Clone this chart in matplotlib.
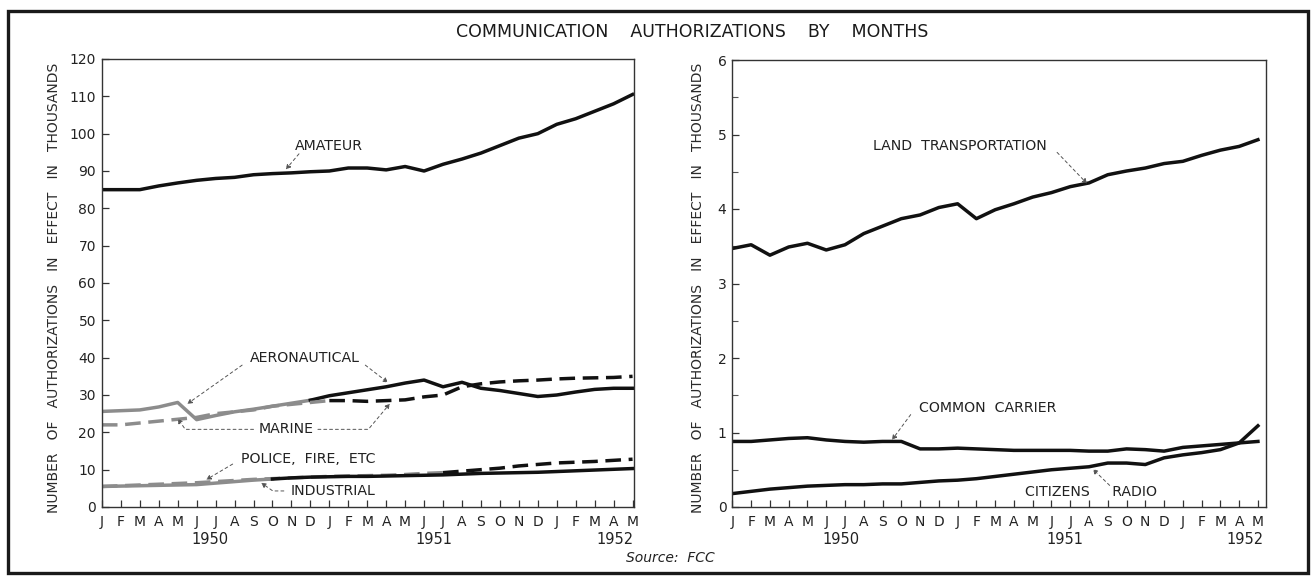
import matplotlib
matplotlib.use("Agg")
import matplotlib.pyplot as plt
from matplotlib.patches import Rectangle
from matplotlib.transforms import blended_transform_factory

plt.rcParams['font.family'] = ['DejaVu Sans']

months = ["J", "F", "M", "A", "M", "J", "J", "A", "S", "O", "N", "D",
          "J", "F", "M", "A", "M", "J", "J", "A", "S", "O", "N", "D",
          "J", "F", "M", "A", "M"]
years = ["1950", "1951", "1952"]
x = list(range(len(months)))

amateur = [85, 85, 85, 86, 86.8, 87.5, 88, 88.3, 89, 89.3, 89.5, 89.8,
           90, 90.8, 90.8, 90.3, 91.2, 90, 91.8, 93.2, 94.8, 96.8, 98.8, 100,
           102.5, 104, 106, 108, 110.5]
aeronautical = [25.6, 25.8, 26, 26.8, 28, 23.4, 24.5, 25.5, 26.2, 27, 27.8, 28.6,
                29.8, 30.6, 31.4, 32.2, 33.2, 34, 32.2, 33.4, 31.8, 31.2, 30.4, 29.6,
                30, 30.8, 31.5, 31.8, 31.8]
marine = [22, 22, 22.5, 23, 23.5, 24, 25, 25.5, 26, 27, 27.5, 28,
          28.5, 28.5, 28.3, 28.5, 28.7, 29.5, 30, 32.2, 33, 33.5, 33.8, 34,
          34.3, 34.5, 34.6, 34.7, 35]
police = [5.5, 5.7, 5.9, 6.1, 6.3, 6.5, 6.8, 7.1, 7.4, 7.6, 7.8, 8.0,
          8.2, 8.3, 8.4, 8.5, 8.7, 9.0, 9.2, 9.6, 10.0, 10.4, 11.0, 11.4,
          11.8, 12.0, 12.2, 12.5, 12.8]
industrial = [5.5, 5.6, 5.7, 5.8, 5.9, 6.0, 6.4, 6.8, 7.2, 7.5, 7.8, 8.0,
              8.1, 8.2, 8.2, 8.3, 8.4, 8.5, 8.6, 8.8, 9.0, 9.1, 9.2, 9.3,
              9.5, 9.7, 9.9, 10.1, 10.3]

land = [3.47, 3.52, 3.38, 3.49, 3.54, 3.45, 3.52, 3.67, 3.77, 3.87, 3.92, 4.02,
        4.07, 3.87, 3.99, 4.07, 4.16, 4.22, 4.30, 4.35, 4.46, 4.51, 4.55, 4.61,
        4.64, 4.72, 4.79, 4.84, 4.93]
common = [0.88, 0.88, 0.90, 0.92, 0.93, 0.90, 0.88, 0.87, 0.88, 0.88, 0.78, 0.78,
          0.79, 0.78, 0.77, 0.76, 0.76, 0.76, 0.76, 0.75, 0.75, 0.78, 0.77, 0.75,
          0.80, 0.82, 0.84, 0.86, 0.88]
citizens = [0.18, 0.21, 0.24, 0.26, 0.28, 0.29, 0.30, 0.30, 0.31, 0.31, 0.33, 0.35,
            0.36, 0.38, 0.41, 0.44, 0.47, 0.50, 0.52, 0.54, 0.59, 0.59, 0.57, 0.66,
            0.70, 0.73, 0.77, 0.86, 1.09]

W, H = 1313, 576
fig = plt.figure(figsize=(W / 100, H / 100), dpi=100)


def fx(px):
    return px / W


def fy(py):
    return 1 - py / H


axL = fig.add_axes([fx(101.5), fy(507), fx(633.5 - 101.5), (507 - 59) / H])
axR = fig.add_axes([fx(732), fy(507), fx(1266 - 732), (507 - 60) / H])

ink = "#111111"
gray = "#8c8c8c"
lw = 2.5
dash = (4.5, 2.2)


def split_plot(ax, ys, cut, **kw):
    ax.plot(x[:cut + 1], ys[:cut + 1], color=gray, lw=lw, **kw)
    ax.plot(x[cut:], ys[cut:], color=ink, lw=lw, **kw)


axL.plot(x, amateur, color=ink, lw=lw)
split_plot(axL, aeronautical, 11)
split_plot(axL, marine, 12, dashes=dash)
split_plot(axL, police, 18, dashes=dash)
split_plot(axL, industrial, 9)

axR.plot(x, land, color=ink, lw=lw)
axR.plot(x, common, color=ink, lw=lw)
axR.plot(x, citizens, color=ink, lw=lw)

axL.set_xlim(-0.02, 28.05)
axL.set_ylim(0, 120)
axL.set_yticks(range(0, 121, 10))
axR.set_xlim(-0.02, 28.43)
axR.set_ylim(0, 6)
axR.set_yticks(range(0, 7))
axR.set_yticks([0.5, 1.5, 2.5, 3.5, 4.5, 5.5], minor=True)

tr_ylab = {axL: (-0.077, 0.49), axR: (-0.051, 0.49)}
for ax in (axL, axR):
    ax.set_xticks(x)
    ax.set_xticklabels(months)
    ax.tick_params(axis='both', direction='in', length=5, width=0.9,
                   colors='#333333', labelcolor='#222222', labelsize=10)
    ax.tick_params(axis='y', which='minor', direction='in', length=4, width=0.8,
                   colors='#555555')
    ax.tick_params(axis='x', pad=6)
    ax.tick_params(axis='y', pad=4)
    for s in ax.spines.values():
        s.set_linewidth(1.0)
        s.set_color('#333333')
    ax.set_ylabel("NUMBER   OF   AUTHORIZATIONS   IN   EFFECT   IN   THOUSANDS",
                  fontsize=10, color='#2a2a2a')
    ax.yaxis.set_label_coords(*tr_ylab[ax])

trL = blended_transform_factory(axL.transData, axL.transAxes)
for xp, yr in zip([5.7, 17.5, 27.05], years):
    axL.text(xp, -0.056, yr, transform=trL, ha='center', va='top',
             fontsize=10.5, color='#222222')
trR = blended_transform_factory(axR.transData, axR.transAxes)
for xp, yr in zip([5.8, 17.7, 27.3], years):
    axR.text(xp, -0.056, yr, transform=trR, ha='center', va='top',
             fontsize=10.5, color='#222222')

lead = dict(arrowstyle='-|>', lw=0.7, color='#555555', linestyle=(0, (3, 3)),
            mutation_scale=7, shrinkA=0, shrinkB=0)
tfs = 10.2
tc = '#222222'

axL.text(12.0, 96.6, "AMATEUR", fontsize=tfs, color=tc, ha='center', va='center')
axL.annotate("", xy=(9.7, 90.4), xytext=(10.4, 94.6), arrowprops=lead)

axL.text(10.7, 39.8, "AERONAUTICAL", fontsize=tfs, color=tc, ha='center', va='center')
axL.annotate("", xy=(4.5, 27.6), xytext=(7.4, 38.0), arrowprops=lead)
axL.annotate("", xy=(15.1, 33.3), xytext=(13.9, 38.0), arrowprops=lead)

axL.text(9.7, 20.8, "MARINE", fontsize=tfs, color=tc, ha='center', va='center')
axL.annotate("", xy=(4.0, 23.7), xytext=(8.0, 20.8),
             arrowprops=dict(lead, connectionstyle="angle,angleA=0,angleB=-55,rad=0"))
axL.annotate("", xy=(15.2, 27.7), xytext=(11.4, 20.8),
             arrowprops=dict(lead, connectionstyle="angle,angleA=0,angleB=-130,rad=0"))

axL.text(10.9, 12.8, "POLICE,  FIRE,  ETC", fontsize=tfs, color=tc, ha='center', va='center')
axL.annotate("", xy=(5.5, 7.3), xytext=(6.9, 11.5), arrowprops=lead)

axL.text(12.2, 4.3, "INDUSTRIAL", fontsize=tfs, color=tc, ha='center', va='center')
axL.annotate("", xy=(8.4, 6.5), xytext=(9.6, 4.3),
             arrowprops=dict(lead, connectionstyle="angle,angleA=0,angleB=-35,rad=0"))

axR.text(12.1, 4.84, "LAND  TRANSPORTATION", fontsize=tfs, color=tc, ha='center', va='center')
axR.annotate("", xy=(18.9, 4.34), xytext=(17.3, 4.76), arrowprops=lead)

axR.text(13.6, 1.33, "COMMON  CARRIER", fontsize=tfs, color=tc, ha='center', va='center')
axR.annotate("", xy=(8.5, 0.9), xytext=(9.5, 1.24), arrowprops=lead)

axR.text(19.1, 0.2, "CITIZENS     RADIO", fontsize=tfs, color=tc, ha='center', va='center')
axR.annotate("", xy=(19.2, 0.51), xytext=(20.1, 0.29), arrowprops=lead)

fig.text(fx(692), fy(32), "COMMUNICATION    AUTHORIZATIONS    BY    MONTHS",
         ha='center', va='center', fontsize=12.5, color='#1a1a1a')
fig.text(fx(670), fy(558), "Source:  FCC", ha='center', va='center',
         fontsize=10, style='italic', color='#222222')

fig.patches.append(Rectangle((fx(8), fy(573)), fx(1308 - 8), (573 - 11) / H,
                             transform=fig.transFigure, fill=False,
                             lw=2.4, edgecolor='#1a1a1a'))

fig.savefig("out.png", dpi=100, facecolor='white')
